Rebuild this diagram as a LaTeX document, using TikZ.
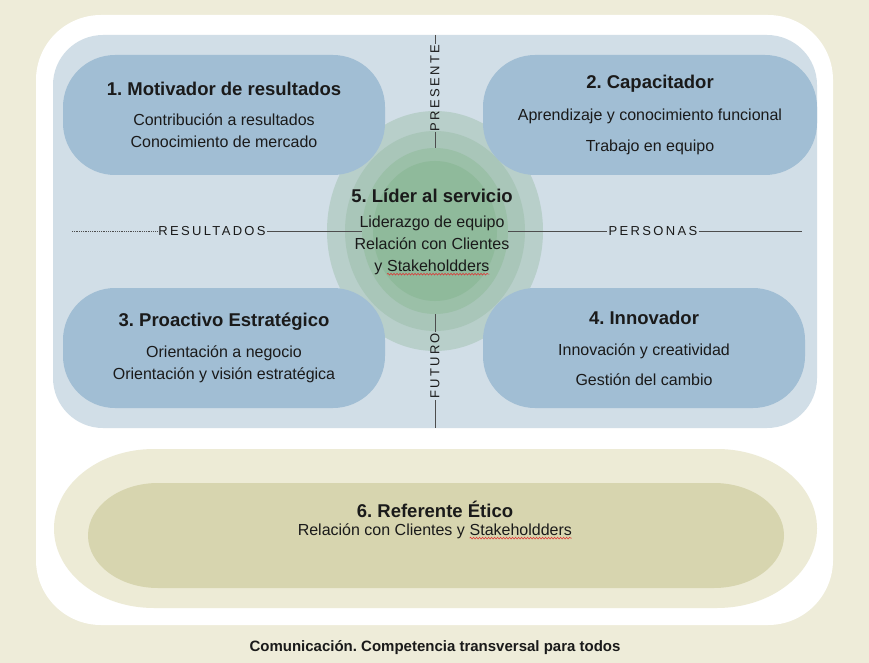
\documentclass[tikz,border=0pt]{standalone}
\usepackage{fontspec}
\setmainfont{Liberation Sans}
\usepackage{tikz}
\usetikzlibrary{shapes.geometric, decorations.pathmorphing}
\frenchspacing

\definecolor{pagebg}{HTML}{EEECD9}
\definecolor{bluebg}{HTML}{D1DEE7}
\definecolor{boxblue}{HTML}{A1BED4}
\definecolor{ring1}{HTML}{B8CFCA}
\definecolor{ring2}{HTML}{A9C6B9}
\definecolor{ring3}{HTML}{9BC0A8}
\definecolor{ring4}{HTML}{8FBA9B}
\definecolor{pillouter}{HTML}{EDEBD6}
\definecolor{pillinner}{HTML}{D7D5AF}
\definecolor{linegray}{HTML}{4D4D4D}
\definecolor{textdark}{HTML}{1A1A1A}
\definecolor{spellred}{HTML}{E03030}

\newcommand{\titlefont}{\fontsize{18.5}{22}\selectfont\bfseries}
\newcommand{\axisfont}{\fontsize{13}{15}\selectfont\addfontfeature{LetterSpace=18}}
\newcommand{\spellwave}[1]{\tikz[baseline=(word.base)]{\node[inner sep=0pt, outer sep=0pt, minimum width=0pt, minimum height=0pt, fill=none, draw=none] (word) {#1};
  \draw[spellred, line width=0.5pt, decorate, decoration={snake, amplitude=0.9pt, segment length=3pt}] ([yshift=-3pt]word.base west) -- ([yshift=-3pt]word.base east);}}

\tikzstyle{competencia} = [rectangle, rounded corners=52, fill=boxblue, minimum width=322, minimum height=120, align=center, text=textdark, font=\fontsize{16}{22}\selectfont]
\tikzstyle{ring} = [ellipse, inner sep=0pt]
\tikzstyle{eje} = [font=\axisfont, text=textdark, inner sep=1pt]
\tikzstyle{linea} = [draw=linegray, line width=0.8pt]

\begin{document}
\begin{tikzpicture}[x=1pt, y=-1pt]
        % Fondo
        \useasboundingbox (0,0) rectangle (869,663);
        \fill[pagebg] (0,0) rectangle (869,663);
        \fill[white, rounded corners=65] (36,15) rectangle (833,625);
        \fill[bluebg, rounded corners=50] (53,35) rectangle (817,428);

        % Anillos
        \node[ring, fill=ring1, minimum width=216, minimum height=240] (aura) at (435,231) {};
        \node[ring, fill=ring2, minimum width=180, minimum height=200] (halo) at (435,231) {};
        \node[ring, fill=ring3, minimum width=146, minimum height=166] (nucleo) at (435,231) {};
        \node[ring, fill=ring4, minimum width=124, minimum height=140] (centro) at (435,231) {};

        % Ejes
        \node[eje, rotate=90] (presente) at (435,88) {PRESENTE};
        \node[eje, rotate=90] (futuro) at (435,366) {FUTURO};
        \node[eje] (resultados) at (212,231) {RESULTADOS};
        \node[eje] (personas) at (653,231) {PERSONAS};
        \coordinate (arriba) at (435,35);
        \coordinate (abajo) at (435,428);
        \coordinate (izq) at (72,231);
        \coordinate (der) at (802,231);

        \draw[linea] (arriba) -- (presente);
        \draw[linea] (presente) -- (nucleo);
        \draw[linea] (nucleo) -- (futuro);
        \draw[linea] (futuro) -- (abajo);
        \draw[linea, densely dotted, line width=0.6pt] (izq) -- (resultados);
        \draw[linea] (resultados) -- (nucleo);
        \draw[linea] (nucleo) -- (personas);
        \draw[linea] (personas) -- (der);

        % Competencias
        \node[competencia] (motivador) at (224,115) {{\titlefont 1. Motivador de resultados}\\[8pt] Contribución a resultados\\ Conocimiento de mercado};
        \node[competencia, minimum width=334] (capacitador) at (650,115) {{\titlefont 2. Capacitador}\\[10pt] Aprendizaje y conocimiento funcional\\[9pt] Trabajo en equipo};
        \node[competencia] (proactivo) at (224,348) {{\titlefont 3. Proactivo Estratégico}\\[9pt] Orientación a negocio\\ Orientación y visión estratégica};
        \node[competencia] (innovador) at (644,348) {{\titlefont 4. Innovador}\\[9pt] Innovación y creatividad\\[8pt] Gestión del cambio};

        % Lider al servicio
        \node[align=center, text=textdark, font=\fontsize{16}{22}\selectfont] (lider) at (432,232) {{\titlefont 5. Líder al servicio}\\[3pt] Liderazgo de equipo\\ Relación con Clientes\\ y \spellwave{Stakeholdders}};

        % Referente etico
        \fill[pillouter] (154,449) -- (717,449) arc[start angle=-90, end angle=90, x radius=100, y radius=79.5] -- (154,608) arc[start angle=90, end angle=270, x radius=100, y radius=79.5] -- cycle;
        \fill[pillinner] (158,483) -- (714,483) arc[start angle=-90, end angle=90, x radius=70, y radius=52.5] -- (158,588) arc[start angle=90, end angle=270, x radius=70, y radius=52.5] -- cycle;
        \node[align=center, text=textdark, font=\fontsize{16}{22}\selectfont] (etico) at (435,520) {{\titlefont 6. Referente Ético}\\[-4pt] Relación con Clientes y \spellwave{Stakeholdders}};

        % Pie
        \node[text=textdark, font=\fontsize{15}{18}\selectfont\bfseries] (comunicacion) at (435,648) {Comunicación. Competencia transversal para todos};
\end{tikzpicture}
\end{document}
